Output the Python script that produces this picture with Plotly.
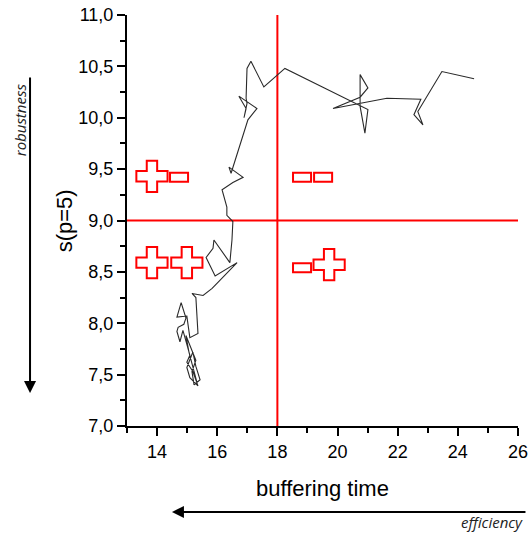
import plotly.graph_objects as go

# ---- data ----
buffer_time = [15.33, 15.06, 14.96, 15.29, 15.16, 15.23, 15.43, 15.29, 15.19, 14.99,
               15.09, 15.36, 15.19, 14.99, 15.09, 14.86, 14.76, 14.66, 14.70, 14.89,
               14.96, 14.80, 14.66, 14.99, 15.09, 15.36, 15.29, 15.16, 15.53, 15.83,
               16.66, 15.93, 15.63, 15.86, 15.89, 16.42, 16.49, 16.52, 16.32, 16.32,
               16.16, 16.52, 16.86, 16.39, 16.46, 17.02, 17.32, 16.72, 16.96, 16.89,
               16.99, 16.96, 16.99, 17.12, 17.55, 18.25, 21.01, 20.91, 20.75, 20.75,
               21.01, 20.75, 19.85, 21.64, 22.77, 22.54, 22.84, 22.67, 23.47, 24.54]
s_p5 = [7.42, 7.72, 7.88, 7.64, 7.53, 7.40, 7.45, 7.58, 7.72, 7.57,
        7.47, 7.39, 7.53, 7.62, 7.69, 7.93, 7.82, 7.92, 7.96, 7.99,
        8.05, 8.20, 8.06, 8.07, 7.86, 7.90, 8.25, 8.29, 8.27, 8.34,
        8.59, 8.46, 8.64, 8.73, 8.81, 8.59, 8.81, 8.99, 9.05, 9.13,
        9.30, 9.37, 9.42, 9.52, 9.46, 9.98, 10.09, 10.21, 10.09, 10.00,
        10.14, 10.19, 10.48, 10.55, 10.30, 10.48, 10.08, 9.85, 10.11, 10.42,
        10.29, 10.20, 10.09, 10.19, 10.18, 10.03, 9.93, 10.06, 10.45, 10.38]

x_split = 18.0
y_split = 9.0

plus_x = [13.83, 13.83, 14.99, 19.72]
plus_y = [9.43, 8.59, 8.59, 8.57]
minus_x = [14.73, 18.82, 19.52, 18.82]
minus_y = [9.42, 9.42, 9.42, 8.54]

x_ticks = [14, 16, 18, 20, 22, 24, 26]
y_ticks = [7.0, 7.5, 8.0, 8.5, 9.0, 9.5, 10.0, 10.5, 11.0]
y_ticktext = ["7,0", "7,5", "8,0", "8,5", "9,0", "9,5", "10,0", "10,5", "11,0"]

x_range = [13, 26]
y_range = [7, 11]

RED = "#ff0000"
FONT = "Liberation Sans, Arial, sans-serif"

fig = go.Figure()

# red quadrant lines
fig.add_trace(go.Scatter(x=[x_split, x_split], y=y_range, mode="lines",
                         line=dict(color=RED, width=2), hoverinfo="skip", showlegend=False,
                         cliponaxis=False))
fig.add_trace(go.Scatter(x=x_range, y=[y_split, y_split], mode="lines",
                         line=dict(color=RED, width=2), hoverinfo="skip", showlegend=False,
                         cliponaxis=False))

# data trajectory
fig.add_trace(go.Scatter(x=buffer_time, y=s_p5, mode="lines",
                         line=dict(color="#2a2a2a", width=1.1), showlegend=False))

# plus signs
fig.add_trace(go.Scatter(x=plus_x, y=plus_y, mode="markers",
                         marker=dict(symbol="cross", size=26, color="white",
                                     line=dict(color=RED, width=2)),
                         hoverinfo="skip", showlegend=False))

# minus signs
hw, hh = 0.30, 0.044
for mx, my in zip(minus_x, minus_y):
    fig.add_shape(type="rect", xref="x", yref="y",
                  x0=mx - hw, x1=mx + hw, y0=my - hh, y1=my + hh,
                  line=dict(color=RED, width=2), fillcolor="white", layer="above")

axis_common = dict(showline=True, linecolor="black", linewidth=2, ticks="outside",
                   ticklen=8, tickwidth=1.5, tickcolor="black", showgrid=False,
                   zeroline=False, mirror=False, automargin=False,
                   tickfont=dict(family=FONT, size=18, color="black"))

fig.update_xaxes(range=x_range, tickmode="array", tickvals=x_ticks,
                 ticktext=[str(v) for v in x_ticks],
                 minor=dict(dtick=1, tick0=13, ticklen=5, tickwidth=1.5,
                            tickcolor="black", ticks="outside"),
                 **axis_common)
fig.update_yaxes(range=y_range, tickmode="array", tickvals=y_ticks, ticktext=y_ticktext,
                 minor=dict(dtick=0.25, tick0=7, ticklen=5, tickwidth=1.5,
                            tickcolor="black", ticks="outside"),
                 **axis_common)

annotations = [
    dict(text="buffering time", xref="paper", yref="paper", x=0.5, y=-0.151,
         showarrow=False, font=dict(family=FONT, size=22, color="black"),
         xanchor="center", yanchor="middle"),
    dict(text="s(p=5)", xref="paper", yref="paper", x=-0.159, y=0.5, textangle=-90,
         showarrow=False, font=dict(family=FONT, size=22, color="black"),
         xanchor="center", yanchor="middle"),
    dict(text="<i>robustness</i>", xref="paper", yref="paper", x=-0.275, y=0.745,
         textangle=-90, showarrow=False,
         font=dict(family="Open Sans, sans-serif", size=15, color="#222"),
         xanchor="center", yanchor="middle"),
    dict(text="<i>efficiency</i>", xref="paper", yref="paper", x=1.018, y=-0.234,
         showarrow=False,
         font=dict(family="Open Sans, sans-serif", size=15, color="#222"),
         xanchor="right", yanchor="middle"),
    dict(text="", xref="paper", yref="paper", x=-0.248, y=0.080,
         axref="pixel", ayref="pixel", ax=0, ay=-317, showarrow=True,
         arrowhead=2, arrowsize=1.2, arrowwidth=2, arrowcolor="black", standoff=0),
    dict(text="", xref="paper", yref="paper", x=0.115, y=-0.209,
         axref="pixel", ayref="pixel", ax=355, ay=0, showarrow=True,
         arrowhead=2, arrowsize=1.2, arrowwidth=2, arrowcolor="black", standoff=0),
]

fig.update_layout(width=530, height=533, margin=dict(l=127, r=12, t=15, b=107),
                  plot_bgcolor="white", paper_bgcolor="white",
                  annotations=annotations, showlegend=False)

fig.write_html("out.html")
